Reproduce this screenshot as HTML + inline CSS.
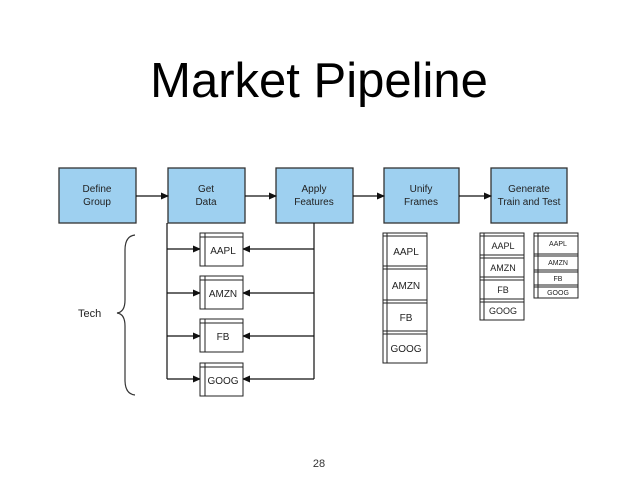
<!DOCTYPE html>
<html><head><style>
body{margin:0;background:#fff;}
svg{display:block;font-family:"Liberation Sans",sans-serif;}
</style></head><body>
<svg width="638" height="479" viewBox="0 0 638 479">
<defs><marker id="a" markerWidth="8" markerHeight="8" refX="7" refY="4" orient="auto" markerUnits="userSpaceOnUse"><path d="M0,0.5 L8,4 L0,7.5z" fill="#111"/></marker></defs>
<text x="319" y="97" font-size="49" text-anchor="middle" fill="#000">Market Pipeline</text>
<g fill="#9ed0f0" stroke="#333" stroke-width="1.3">
<rect x="59" y="168" width="77" height="55"/><rect x="168" y="168" width="77" height="55"/><rect x="276" y="168" width="77" height="55"/><rect x="384" y="168" width="75" height="55"/><rect x="491" y="168" width="76" height="55"/>
</g>
<g font-size="10" text-anchor="middle" fill="#222">
<text x="97" y="192">Define</text><text x="97" y="205">Group</text>
<text x="206" y="192">Get</text><text x="206" y="205">Data</text>
<text x="314" y="192">Apply</text><text x="314" y="205">Features</text>
<text x="421" y="192">Unify</text><text x="421" y="205">Frames</text>
<text x="529" y="192">Generate</text><text x="529" y="205">Train and Test</text>
</g>
<g stroke="#111" stroke-width="1.2" fill="none">
<line x1="136" y1="196" x2="168" y2="196" marker-end="url(#a)"/>
<line x1="245" y1="196" x2="276" y2="196" marker-end="url(#a)"/>
<line x1="353" y1="196" x2="384" y2="196" marker-end="url(#a)"/>
<line x1="459" y1="196" x2="491" y2="196" marker-end="url(#a)"/>
<polyline points="167,223 167,379"/><polyline points="314,223 314,379"/>
<line x1="167" y1="249" x2="200" y2="249" marker-end="url(#a)"/><line x1="314" y1="249" x2="243" y2="249" marker-end="url(#a)"/>
<line x1="167" y1="293" x2="200" y2="293" marker-end="url(#a)"/><line x1="314" y1="293" x2="243" y2="293" marker-end="url(#a)"/>
<line x1="167" y1="336" x2="200" y2="336" marker-end="url(#a)"/><line x1="314" y1="336" x2="243" y2="336" marker-end="url(#a)"/>
<line x1="167" y1="379" x2="200" y2="379" marker-end="url(#a)"/><line x1="314" y1="379" x2="243" y2="379" marker-end="url(#a)"/>
<path d="M135,235 Q125,236 125,250 L125,300 Q125,312 117,313 Q125,314 125,326 L125,380 Q125,394 135,395" stroke="#333"/>
</g>
<text x="78" y="317" font-size="11" fill="#222">Tech</text>
<g stroke="#222" stroke-width="1" fill="#fff">
<rect x="200" y="233" width="43" height="33"/><line x1="205" y1="233" x2="205" y2="266"/><line x1="200" y1="237" x2="243" y2="237"/>
<rect x="200" y="276" width="43" height="33"/><line x1="205" y1="276" x2="205" y2="309"/><line x1="200" y1="280" x2="243" y2="280"/>
<rect x="200" y="319" width="43" height="33"/><line x1="205" y1="319" x2="205" y2="352"/><line x1="200" y1="323" x2="243" y2="323"/>
<rect x="200" y="363" width="43" height="33"/><line x1="205" y1="363" x2="205" y2="396"/><line x1="200" y1="367" x2="243" y2="367"/>
<rect x="383" y="233" width="44" height="130"/><line x1="387" y1="233" x2="387" y2="363"/>
<line x1="383" y1="236" x2="427" y2="236"/><line x1="383" y1="266" x2="427" y2="266"/><line x1="383" y1="269" x2="427" y2="269"/><line x1="383" y1="300" x2="427" y2="300"/><line x1="383" y1="303" x2="427" y2="303"/><line x1="383" y1="331" x2="427" y2="331"/><line x1="383" y1="334" x2="427" y2="334"/>
<rect x="480" y="233" width="44" height="87"/><line x1="484" y1="233" x2="484" y2="320"/>
<line x1="480" y1="236" x2="524" y2="236"/><line x1="480" y1="255" x2="524" y2="255"/><line x1="480" y1="258" x2="524" y2="258"/><line x1="480" y1="277" x2="524" y2="277"/><line x1="480" y1="280" x2="524" y2="280"/><line x1="480" y1="299" x2="524" y2="299"/><line x1="480" y1="302" x2="524" y2="302"/>
<rect x="534" y="233" width="44" height="65"/><line x1="538" y1="233" x2="538" y2="298"/>
<line x1="534" y1="236" x2="578" y2="236"/><line x1="534" y1="254" x2="578" y2="254"/><line x1="534" y1="256" x2="578" y2="256"/><line x1="534" y1="270" x2="578" y2="270"/><line x1="534" y1="272" x2="578" y2="272"/><line x1="534" y1="285" x2="578" y2="285"/><line x1="534" y1="287" x2="578" y2="287"/>
</g>
<g font-size="10" text-anchor="middle" fill="#222">
<text x="223" y="254">AAPL</text><text x="223" y="297">AMZN</text><text x="223" y="340">FB</text><text x="223" y="384">GOOG</text>
<text x="406" y="255">AAPL</text><text x="406" y="289">AMZN</text><text x="406" y="321">FB</text><text x="406" y="352">GOOG</text>
</g>
<g font-size="9" text-anchor="middle" fill="#222">
<text x="503" y="249">AAPL</text><text x="503" y="271">AMZN</text><text x="503" y="293">FB</text><text x="503" y="314">GOOG</text>
</g>
<g font-size="7" text-anchor="middle" fill="#222">
<text x="558" y="246">AAPL</text><text x="558" y="265">AMZN</text><text x="558" y="281">FB</text><text x="558" y="295">GOOG</text>
</g>
<text x="319" y="467" font-size="11" text-anchor="middle" fill="#333">28</text>
</svg>
</body></html>
